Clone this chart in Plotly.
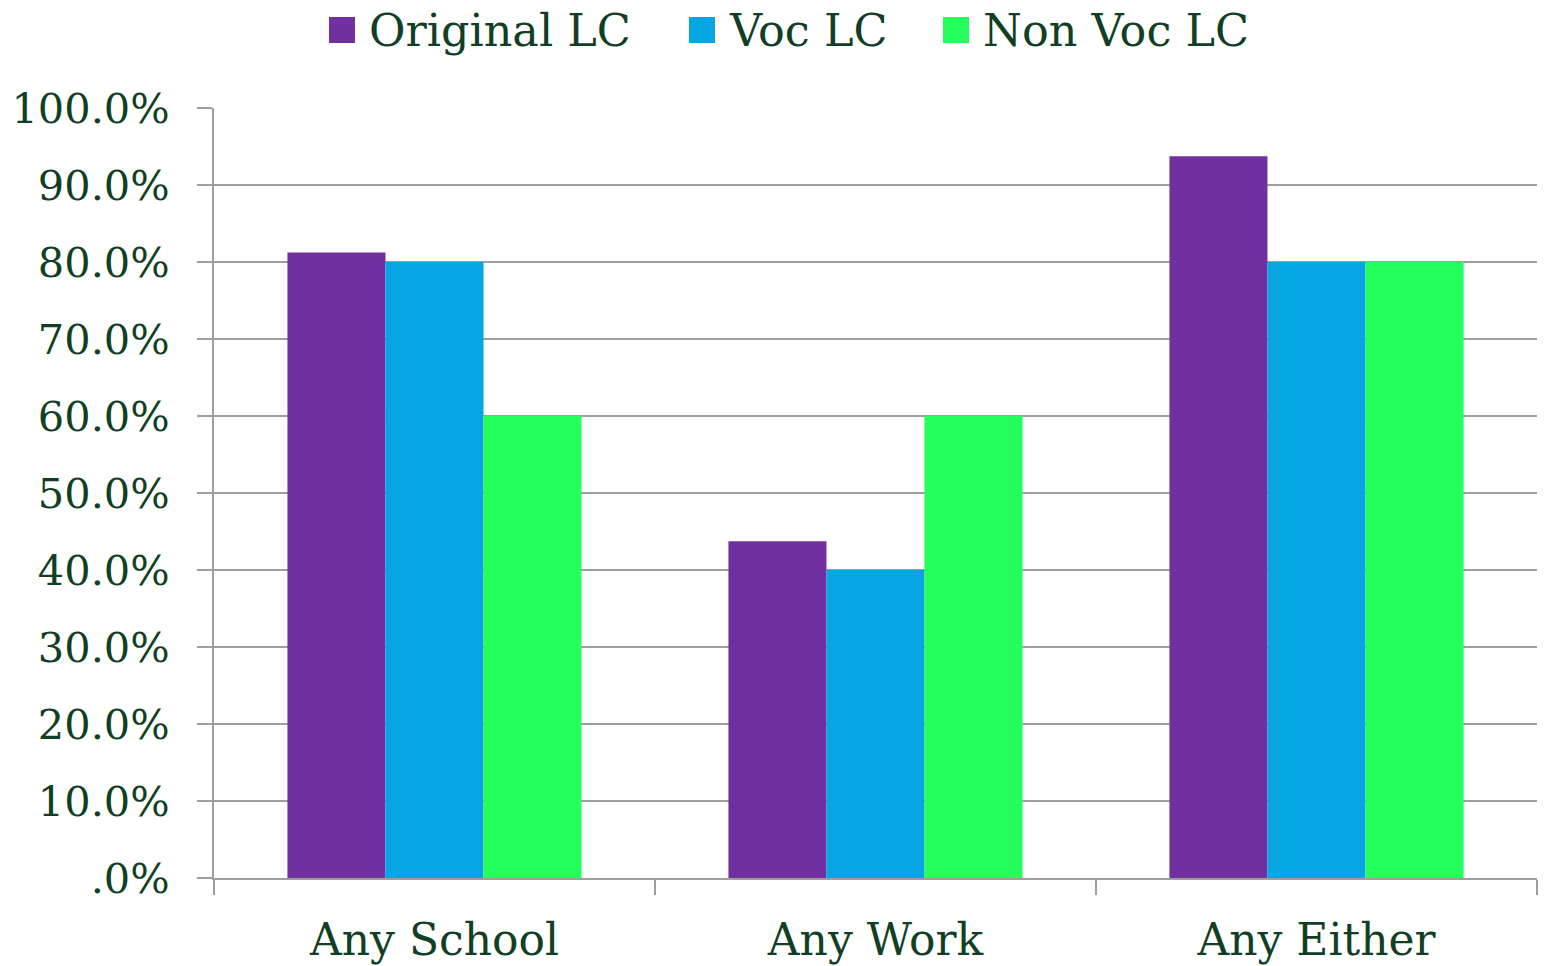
import plotly.graph_objects as go

# Share of each group with school, work, or either
categories = ["Any School", "Any Work", "Any Either"]
series_names = ["Original LC", "Voc LC", "Non Voc LC"]
original_lc = [81.25, 43.75, 93.75]
voc_lc = [80.0, 40.0, 80.0]
non_voc_lc = [60.0, 60.0, 80.0]
series_values = [original_lc, voc_lc, non_voc_lc]
series_colors = ["#7030A0", "#05A6E3", "#25FF5E"]

y_ticks = [0, 10, 20, 30, 40, 50, 60, 70, 80, 90, 100]
y_tick_labels = [".0%", "10.0%", "20.0%", "30.0%", "40.0%", "50.0%",
                 "60.0%", "70.0%", "80.0%", "90.0%", "100.0%"]

TEXT = "#113F25"
GRID = "#9E9E9E"
FONT = "DejaVu Serif"

W, H = 1546, 966
L, R, T, B = 214, 9, 108, 88
PW, PH = W - L - R, H - T - B

fig = go.Figure()
for name, vals, col in zip(series_names, series_values, series_colors):
    fig.add_trace(go.Bar(x=categories, y=vals, name=name,
                         marker=dict(color=col, line=dict(width=0)),
                         showlegend=False))

# Legend drawn as square swatches with text, placed above the plot area
def px_x(px):
    return (px - L) / PW

def px_y(py):
    return (H - B - py) / PH

legend_items = [(329, 367), (689, 727), (943, 981)]
shapes = []
annotations = []
for (sq_x, txt_x), name, col in zip(legend_items, series_names, series_colors):
    shapes.append(dict(type="rect", xref="paper", yref="paper",
                       x0=px_x(sq_x), x1=px_x(sq_x + 26),
                       y0=px_y(43), y1=px_y(17),
                       fillcolor=col, line=dict(width=0)))
    annotations.append(dict(text=name, xref="paper", yref="paper",
                            x=px_x(txt_x), y=px_y(30),
                            xanchor="left", yanchor="middle",
                            showarrow=False,
                            font=dict(family=FONT, size=44.5, color=TEXT)))

fig.update_layout(
    width=W, height=H,
    margin=dict(l=L, r=R, t=T, b=B, autoexpand=False),
    paper_bgcolor="white", plot_bgcolor="white",
    barmode="group", bargap=0.333, bargroupgap=0,
    font=dict(family=FONT, color=TEXT),
    shapes=shapes, annotations=annotations,
    xaxis=dict(
        type="category", automargin=False,
        tickson="boundaries", ticks="outside", ticklen=15,
        tickcolor=GRID, tickwidth=2,
        showline=True, linecolor=GRID, linewidth=2,
        showgrid=False,
        tickfont=dict(family=FONT, size=44, color=TEXT),
        ticklabelstandoff=22,
    ),
    yaxis=dict(
        range=[0, 100], automargin=False,
        tickvals=y_ticks, ticktext=y_tick_labels,
        ticks="outside", ticklen=15, tickcolor=GRID, tickwidth=2,
        showline=True, linecolor=GRID, linewidth=2,
        showgrid=True, gridcolor=GRID, gridwidth=2,
        zeroline=False,
        tickfont=dict(family=FONT, size=41.5, color=TEXT),
        ticklabelstandoff=19,
    ),
)

fig.write_html("out.html")
